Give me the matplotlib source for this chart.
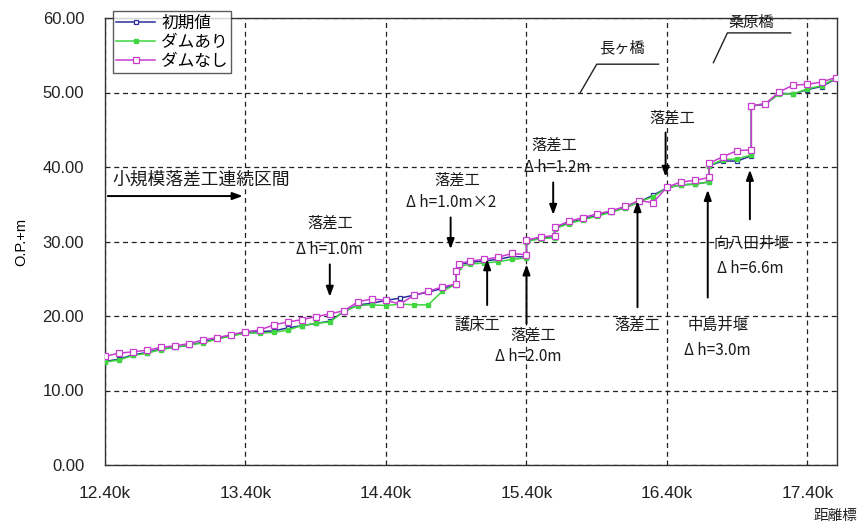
import matplotlib
matplotlib.use("Agg")
import matplotlib.pyplot as plt

plt.rcParams['font.family'] = ['Noto Sans CJK JP', 'DejaVu Sans']

# 距離標 (km); repeated values mark vertical drops at structures
km = [12.4, 12.5, 12.6, 12.7, 12.8, 12.9, 13.0, 13.1, 13.2, 13.3,
      13.4, 13.5, 13.6, 13.7, 13.8, 13.9, 14.0, 14.1, 14.2, 14.3,
      14.4, 14.5, 14.6, 14.7, 14.8, 14.9, 14.9, 14.92, 15.0, 15.1,
      15.2, 15.3, 15.4, 15.4, 15.5, 15.6, 15.6, 15.7, 15.8, 15.9,
      16.0, 16.1, 16.2, 16.3, 16.4, 16.5, 16.6, 16.7, 16.7, 16.8,
      16.9, 17.0, 17.0, 17.1, 17.2, 17.3, 17.4, 17.5, 17.6]

initial = [13.9, 14.2, 14.8, 15.1, 15.6, 15.8, 16.1, 16.5, 17.0, 17.4,
           17.8, 17.9, 18.0, 18.4, 18.7, 19.0, 19.3, 20.6, 21.5, 21.7,
           22.1, 22.4, 22.8, 23.2, 23.7, 24.2, 26.2, 26.9, 27.2, 27.4,
           27.6, 28.0, 27.9, 30.0, 30.5, 30.6, 31.8, 32.5, 33.0, 33.5,
           34.0, 34.5, 35.3, 36.2, 37.2, 37.6, 37.7, 38.0, 40.2, 40.8,
           40.8, 41.5, 48.2, 48.4, 49.9, 49.8, 50.4, 50.8, 51.8]

with_dam = [13.8, 14.1, 14.7, 15.0, 15.5, 15.8, 16.1, 16.4, 16.9, 17.3,
            17.7, 17.7, 17.8, 18.1, 18.7, 19.0, 19.2, 20.6, 21.4, 21.5,
            21.4, 21.6, 21.5, 21.5, 23.3, 24.3, 26.0, 26.6, 27.0, 27.1,
            27.3, 27.6, 27.8, 30.0, 30.4, 30.5, 31.7, 32.4, 32.9, 33.4,
            33.9, 34.5, 35.3, 36.0, 37.2, 37.6, 37.7, 38.0, 40.2, 41.0,
            41.1, 41.6, 48.2, 48.5, 49.8, 49.8, 50.5, 50.9, 51.9]

without_dam = [14.6, 15.0, 15.2, 15.4, 15.8, 16.0, 16.3, 16.8, 17.1, 17.5,
               17.9, 18.1, 18.8, 19.2, 19.5, 19.9, 20.3, 20.7, 21.9, 22.3,
               22.1, 21.6, 22.8, 23.3, 23.9, 24.3, 26.0, 27.0, 27.4, 27.6,
               27.9, 28.4, 28.2, 30.2, 30.6, 30.8, 31.9, 32.7, 33.2, 33.7,
               34.1, 34.7, 35.5, 35.2, 37.3, 38.0, 38.2, 38.6, 40.5, 41.4,
               42.2, 42.3, 48.2, 48.5, 50.1, 51.0, 51.1, 51.4, 52.0]

x_ticks = [12.4, 13.4, 14.4, 15.4, 16.4, 17.4]
x_tick_labels = ["12.40k", "13.40k", "14.40k", "15.40k", "16.40k", "17.40k"]
y_ticks = [0, 10, 20, 30, 40, 50, 60]
y_tick_labels = ["0.00", "10.00", "20.00", "30.00", "40.00", "50.00", "60.00"]

fig = plt.figure(figsize=(8.61, 5.30), dpi=100)
ax = fig.add_axes([105 / 861, 1 - 465 / 530, 732 / 861, 447 / 530])

ax.plot(km, initial, color="#2b2f9a", lw=1.1, marker="s", ms=3.5,
        mfc="white", mec="#2b2f9a", mew=0.9, label="初期値", zorder=3)
ax.plot(km, with_dam, color="#3fd63f", lw=1.1, marker="s", ms=3.5,
        mfc="#3fd63f", mec="#3fd63f", mew=0.9, label="ダムあり", zorder=4)
ax.plot(km, without_dam, color="#c83cd0", lw=1.1, marker="s", ms=3.8,
        mfc="white", mec="#c83cd0", mew=0.9, label="ダムなし", zorder=5)

ax.set_xlim(12.4, 17.61)
ax.set_ylim(0, 60)
ax.set_xticks(x_ticks)
ax.set_xticklabels(x_tick_labels)
ax.set_yticks(y_ticks)
ax.set_yticklabels(y_tick_labels)
ax.tick_params(length=0, colors="#222222")
ax.tick_params(axis="x", pad=15, labelsize=12.5)
ax.tick_params(axis="y", pad=15, labelsize=12)
for lab in ax.get_xticklabels() + ax.get_yticklabels():
    lab.set_family(["Liberation Sans Narrow", "Liberation Sans"])
ax.grid(True, color="#222222", linestyle=(0, (4, 3)), linewidth=0.9)
for sp in ax.spines.values():
    sp.set_color("#333333")
    sp.set_linewidth(1.0)

ax.set_ylabel("O.P.+m", fontsize=10.5, family=["Liberation Sans", "DejaVu Sans"],
              labelpad=10)
fig.text(835 / 861, 1 - 516 / 530, "距離標", fontsize=10.5, ha="center",
         va="center", color="#222222")

leg = ax.legend(loc="upper left", bbox_to_anchor=(0.011, 1.015),
                fontsize=12, frameon=True, fancybox=False, edgecolor="#333333",
                borderpad=0.2, labelspacing=0.12, handlelength=2.3,
                handletextpad=0.4, borderaxespad=0)
leg.get_frame().set_linewidth(1.0)
leg.set_zorder(10)

txt = dict(fontsize=11, ha="center", va="center", color="#1a1a1a", zorder=6)
arw = dict(arrowstyle="-|>,head_length=0.6,head_width=0.22", color="black", lw=1.4)


def arrow(x0, y0, x1, y1):
    ax.annotate("", xy=(x1, y1), xytext=(x0, y0), arrowprops=arw, zorder=6)


# 小規模落差工連続区間
ax.text(12.455, 38.3, "小規模落差工連続区間", fontsize=12.8, ha="left",
        va="center", color="#1a1a1a")
arrow(12.4, 36.1, 13.4, 36.1)

# 落差工 Δh=1.0m
ax.text(14.0, 32.5, "落差工", **txt)
ax.text(14.0, 28.9, "Δ h=1.0m", **txt)
arrow(14.0, 27.3, 14.0, 22.2)

# 落差工 Δh=1.0m×2
ax.text(14.91, 38.3, "落差工", **txt)
ax.text(14.86, 35.3, "Δ h=1.0m×2", **txt)
arrow(14.86, 33.6, 14.86, 28.6)

# 落差工 Δh=1.2m
ax.text(15.6, 43.0, "落差工", **txt)
ax.text(15.62, 40.0, "Δ h=1.2m", **txt)
arrow(15.59, 38.3, 15.59, 33.2)

# 落差工 (16.4k)
ax.text(16.44, 46.6, "落差工", **txt)
arrow(16.39, 45.0, 16.39, 38.3)

# 護床工
ax.text(15.05, 18.8, "護床工", **txt)
arrow(15.12, 21.1, 15.12, 28.0)

# 落差工 Δh=2.0m
ax.text(15.45, 17.4, "落差工", **txt)
ax.text(15.41, 14.6, "Δ h=2.0m", **txt)
arrow(15.4, 18.6, 15.4, 27.3)

# 落差工 (16.2k)
ax.text(16.19, 18.8, "落差工", **txt)
arrow(16.19, 20.8, 16.19, 35.8)

# 中島井堰
ax.text(16.76, 18.8, "中島井堰", **txt)
ax.text(16.76, 15.4, "Δ h=3.0m", **txt)
arrow(16.69, 22.1, 16.69, 37.3)

# 向八田井堰
ax.text(17.0, 29.8, "向八田井堰", **txt)
ax.text(16.99, 26.4, "Δ h=6.6m", **txt)
arrow(16.99, 32.6, 16.99, 40.0)

# 橋梁
ax.text(16.08, 56.0, "長ヶ橋", **txt)
ax.plot([15.78, 15.90, 16.34], [49.9, 53.8, 53.8], color="#222222", lw=1.0,
        zorder=6)
ax.text(17.0, 59.4, "桑原橋", **txt)
ax.plot([16.73, 16.83, 17.28], [54.0, 58.0, 58.0], color="#222222", lw=1.0,
        zorder=6)

fig.savefig("out.png", dpi=100)
